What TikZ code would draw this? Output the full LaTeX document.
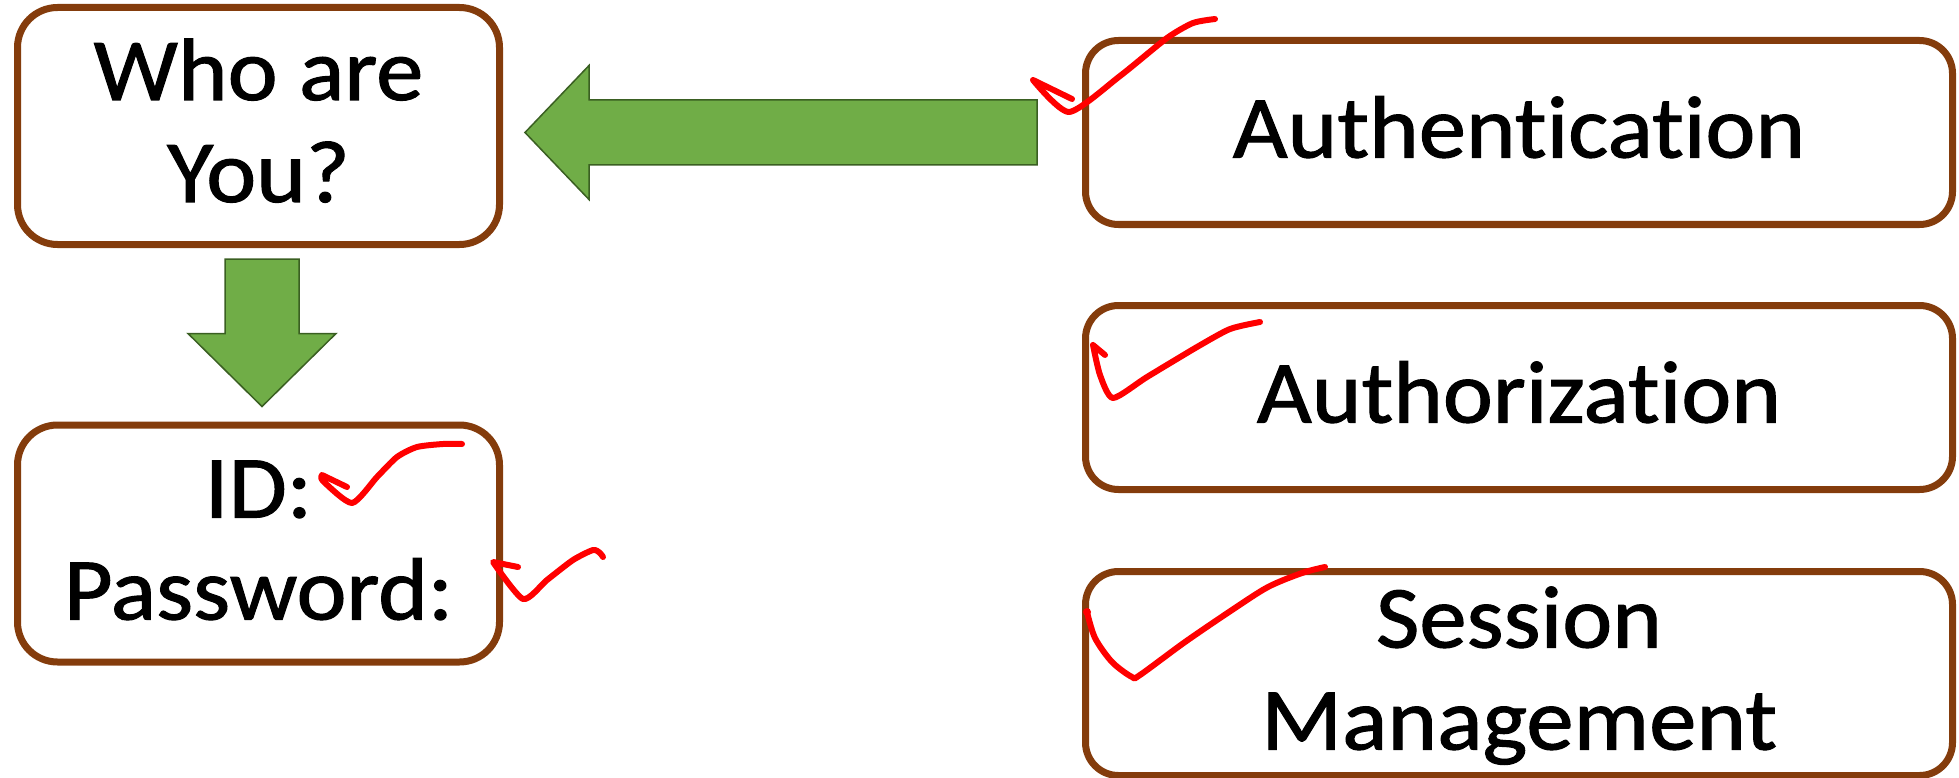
\documentclass[tikz,border=0pt]{standalone}
\usepackage{fontspec}
\setmainfont[FakeStretch=1.07, FakeBold=1.2, Ligatures=NoCommon]{Carlito}
\usetikzlibrary{calc}
\definecolor{boxbrown}{HTML}{843C0C}
\definecolor{arrowfill}{HTML}{70AD47}
\definecolor{arrowline}{HTML}{3A5F22}
\definecolor{tickred}{HTML}{FF0000}
\newcommand{\mystrut}{\rule[-26pt]{0pt}{102pt}}
\newcommand{\boxtext}[1]{{\renewcommand{\arraystretch}{0}\begin{tabular}{@{}c@{}}#1\end{tabular}}}
\tikzset{
  roundbox/.style={draw=boxbrown, line width=7pt, fill=white, inner sep=0pt,
    font=\fontsize{88.5}{102}\selectfont},
  leftbox/.style={roundbox, rounded corners=40pt, minimum width=482pt, minimum height=237pt},
  rightbox/.style={roundbox, rounded corners=33pt, minimum width=867pt, minimum height=184pt},
  blockarrow/.style={fill=arrowfill, draw=arrowline, line width=1.5pt, line join=miter},
  tick/.style={draw=tickred, line width=6pt, line cap=round, line join=round},
}
\begin{document}
\begin{tikzpicture}[x=1pt,y=-1pt]
\useasboundingbox (0,0) rectangle (1959,778);
% boxes
\node[leftbox] (who) at (258.5,126) {\boxtext{Who are\mystrut\\You?\mystrut}};
\node[leftbox] (id) at (258.5,543.5) {\boxtext{ID:\mystrut\\Password:\mystrut}};
\node[rightbox] (authn) at (1519,132.5) {\boxtext{Authentication\mystrut}};
\node[rightbox] (authz) at (1519,397.5) {\boxtext{Authorization\mystrut}};
\node[rightbox, minimum height=204pt] (sess) at (1519,673.5) {\boxtext{Session\mystrut\\Management\mystrut}};
% left block arrow: from Authentication to Who are You?
\coordinate (lt) at ($(who.east |- authn.west)+(22,0)$);
\coordinate (lb) at ($(authn.west)+(-45,0)$);
\draw[blockarrow] (lt) -- ++(64,-67) -- ++(0,34.5) -- ($(lb)+(0,-32.5)$) -- ($(lb)+(0,32.5)$)
  -- ($(lt)+(64,32.5)$) -- ++(0,34.5) -- cycle;
% down block arrow: from Who are You? to ID/Password
\coordinate (dt) at ($(who.south)+(3.5,11)$);
\coordinate (dtip) at ($(id.north)+(3.5,-15)$);
\draw[blockarrow] ($(dt)+(-37,0)$) -- ($(dt)+(37,0)$) -- ($(dtip)+(37,-73)$) -- ($(dtip)+(74,-73)$)
  -- (dtip) -- ($(dtip)+(-74,-73)$) -- ($(dtip)+(-37,-73)$) -- cycle;
% red check marks
\draw[tick] (1072,99) -- (1033,80) -- plot[smooth,tension=0.4] coordinates {(1033,80) (1069,112) (1120,76) (1167,38) (1193,23) (1215,19)};
\draw[tick] (1105,355) -- (1093,345) -- plot[smooth,tension=0.4] coordinates {(1093,345) (1100,375) (1113,398) (1147,377) (1197,347) (1230,329) (1260,322)};
\draw[tick] plot[smooth,tension=0.5] coordinates {(1087,612) (1095,638) (1112,662) (1132,677) (1140,675) (1185,642) (1232,610) (1268,587) (1302,573) (1325,567)};
\fill[tickred] (1087,612) circle (4pt);
\draw[tick] (347,487) -- (322,475) -- plot[smooth,tension=0.4] coordinates {(322,475) (323,481) (352,503) (377,477) (397,457) (417,447) (443,444) (462,444)};
\draw[tick] (518,567) -- (493,562) -- plot[smooth,tension=0.4] coordinates {(493,562) (523,599) (547,580) (573,560) (593,550) (600,553) (603,557)};
\end{tikzpicture}
\end{document}
